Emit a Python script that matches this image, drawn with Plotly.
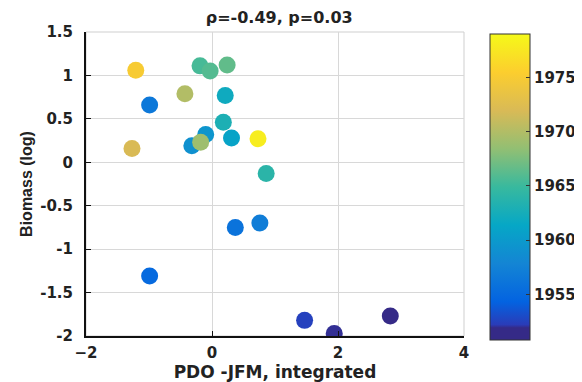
import plotly.graph_objects as go

pdo = [2.83, 1.94, 1.47, -0.99, 0.37, 0.76, -0.99, -0.32, -0.10, 0.31, 0.21, 0.18, 0.86,
       -0.19, -0.03, 0.24, -0.18, -0.43, -1.27, -1.21, 0.73]
biomass = [-1.77, -1.97, -1.82, -1.31, -0.75, -0.70, 0.66, 0.19, 0.32, 0.28, 0.77, 0.46, -0.13,
           1.11, 1.05, 1.12, 0.23, 0.79, 0.16, 1.06, 0.27]
years = [1951, 1952, 1952.5, 1955, 1956, 1957, 1956.5, 1959, 1959.5, 1961, 1962, 1963, 1964,
         1965.5, 1966, 1966.5, 1969, 1970, 1972, 1975, 1978]
cbar_ticks = [1955, 1960, 1965, 1970, 1975]
title_text = "ρ=-0.49, p=0.03"
x_ticks = [-2, 0, 2, 4]
y_ticks = [-2, -1.5, -1, -0.5, 0, 0.5, 1, 1.5]

parula = [[0.0, '#352a87'], [0.04, '#352a87'], [0.05, '#2a3cb8'], [0.125, '#0363e1'],
          [0.25, '#1485d4'], [0.375, '#06a7c6'], [0.5, '#38b99e'], [0.625, '#92bf73'],
          [0.75, '#d9ba56'], [0.875, '#fcce2e'], [1.0, '#f5f919']]

WIDE = "DejaVu Sans, Verdana, sans-serif"
NARROW = "Liberation Sans, Arial, sans-serif"
tickf = dict(family=WIDE, size=15, color="#222", weight="bold")

fig = go.Figure()
fig.add_trace(go.Scatter(
    x=pdo, y=biomass, mode="markers",
    marker=dict(size=17, color=years, colorscale=parula, cmin=1950.8, cmax=1979,
                line=dict(width=0),
                colorbar=dict(thickness=40, len=1.007, lenmode="fraction", x=1.069, xanchor="left",
                              y=0.49, yanchor="middle", tickvals=cbar_ticks, ticks="inside",
                              ticklen=4, tickcolor="#333", outlinecolor="#333", outlinewidth=1,
                              tickfont=tickf, xpad=0, ypad=0)),
    showlegend=False, hoverinfo="skip"))

fig.update_layout(
    width=574, height=374, margin=dict(l=78, r=118, t=24, b=46, autoexpand=False),
    paper_bgcolor="white", plot_bgcolor="white",
    title=dict(text=title_text, x=0.4725, xanchor="center", y=0.976, yanchor="middle",
               automargin=False,
               font=dict(family=WIDE, size=16, color="#222", weight="bold")),
    xaxis=dict(range=[-2, 4], tickvals=x_ticks, showgrid=True, gridcolor="#d8d8d8", gridwidth=1,
               zeroline=False, showline=True, linecolor="#111", linewidth=2, ticks="inside",
               ticklen=5, tickcolor="#111", tickfont=tickf, automargin=False, ticklabelstandoff=2,
               title=dict(text="PDO -JFM, integrated", standoff=3,
                          font=dict(family=WIDE, size=17, color="#222", weight="bold"))),
    yaxis=dict(range=[-2, 1.5], tickvals=y_ticks, ticktext=["-2", "-1.5", "-1", "-0.5", "0", "0.5", "1", "1.5"],
               showgrid=True, gridcolor="#d8d8d8", gridwidth=1,
               zeroline=False, showline=True, linecolor="#111", linewidth=2, ticks="inside",
               ticklen=5, tickcolor="#111", tickfont=tickf, automargin=False, ticklabelstandoff=8,
               title=dict(text="Biomass (log)", standoff=4,
                          font=dict(family=NARROW, size=16, color="#222", weight="bold"))),
)
fig.add_shape(type="rect", xref="paper", yref="paper", x0=0, y0=0, x1=1, y1=1,
              line=dict(color="#cfcfcf", width=1), layer="below")
fig.write_html("out.html")
